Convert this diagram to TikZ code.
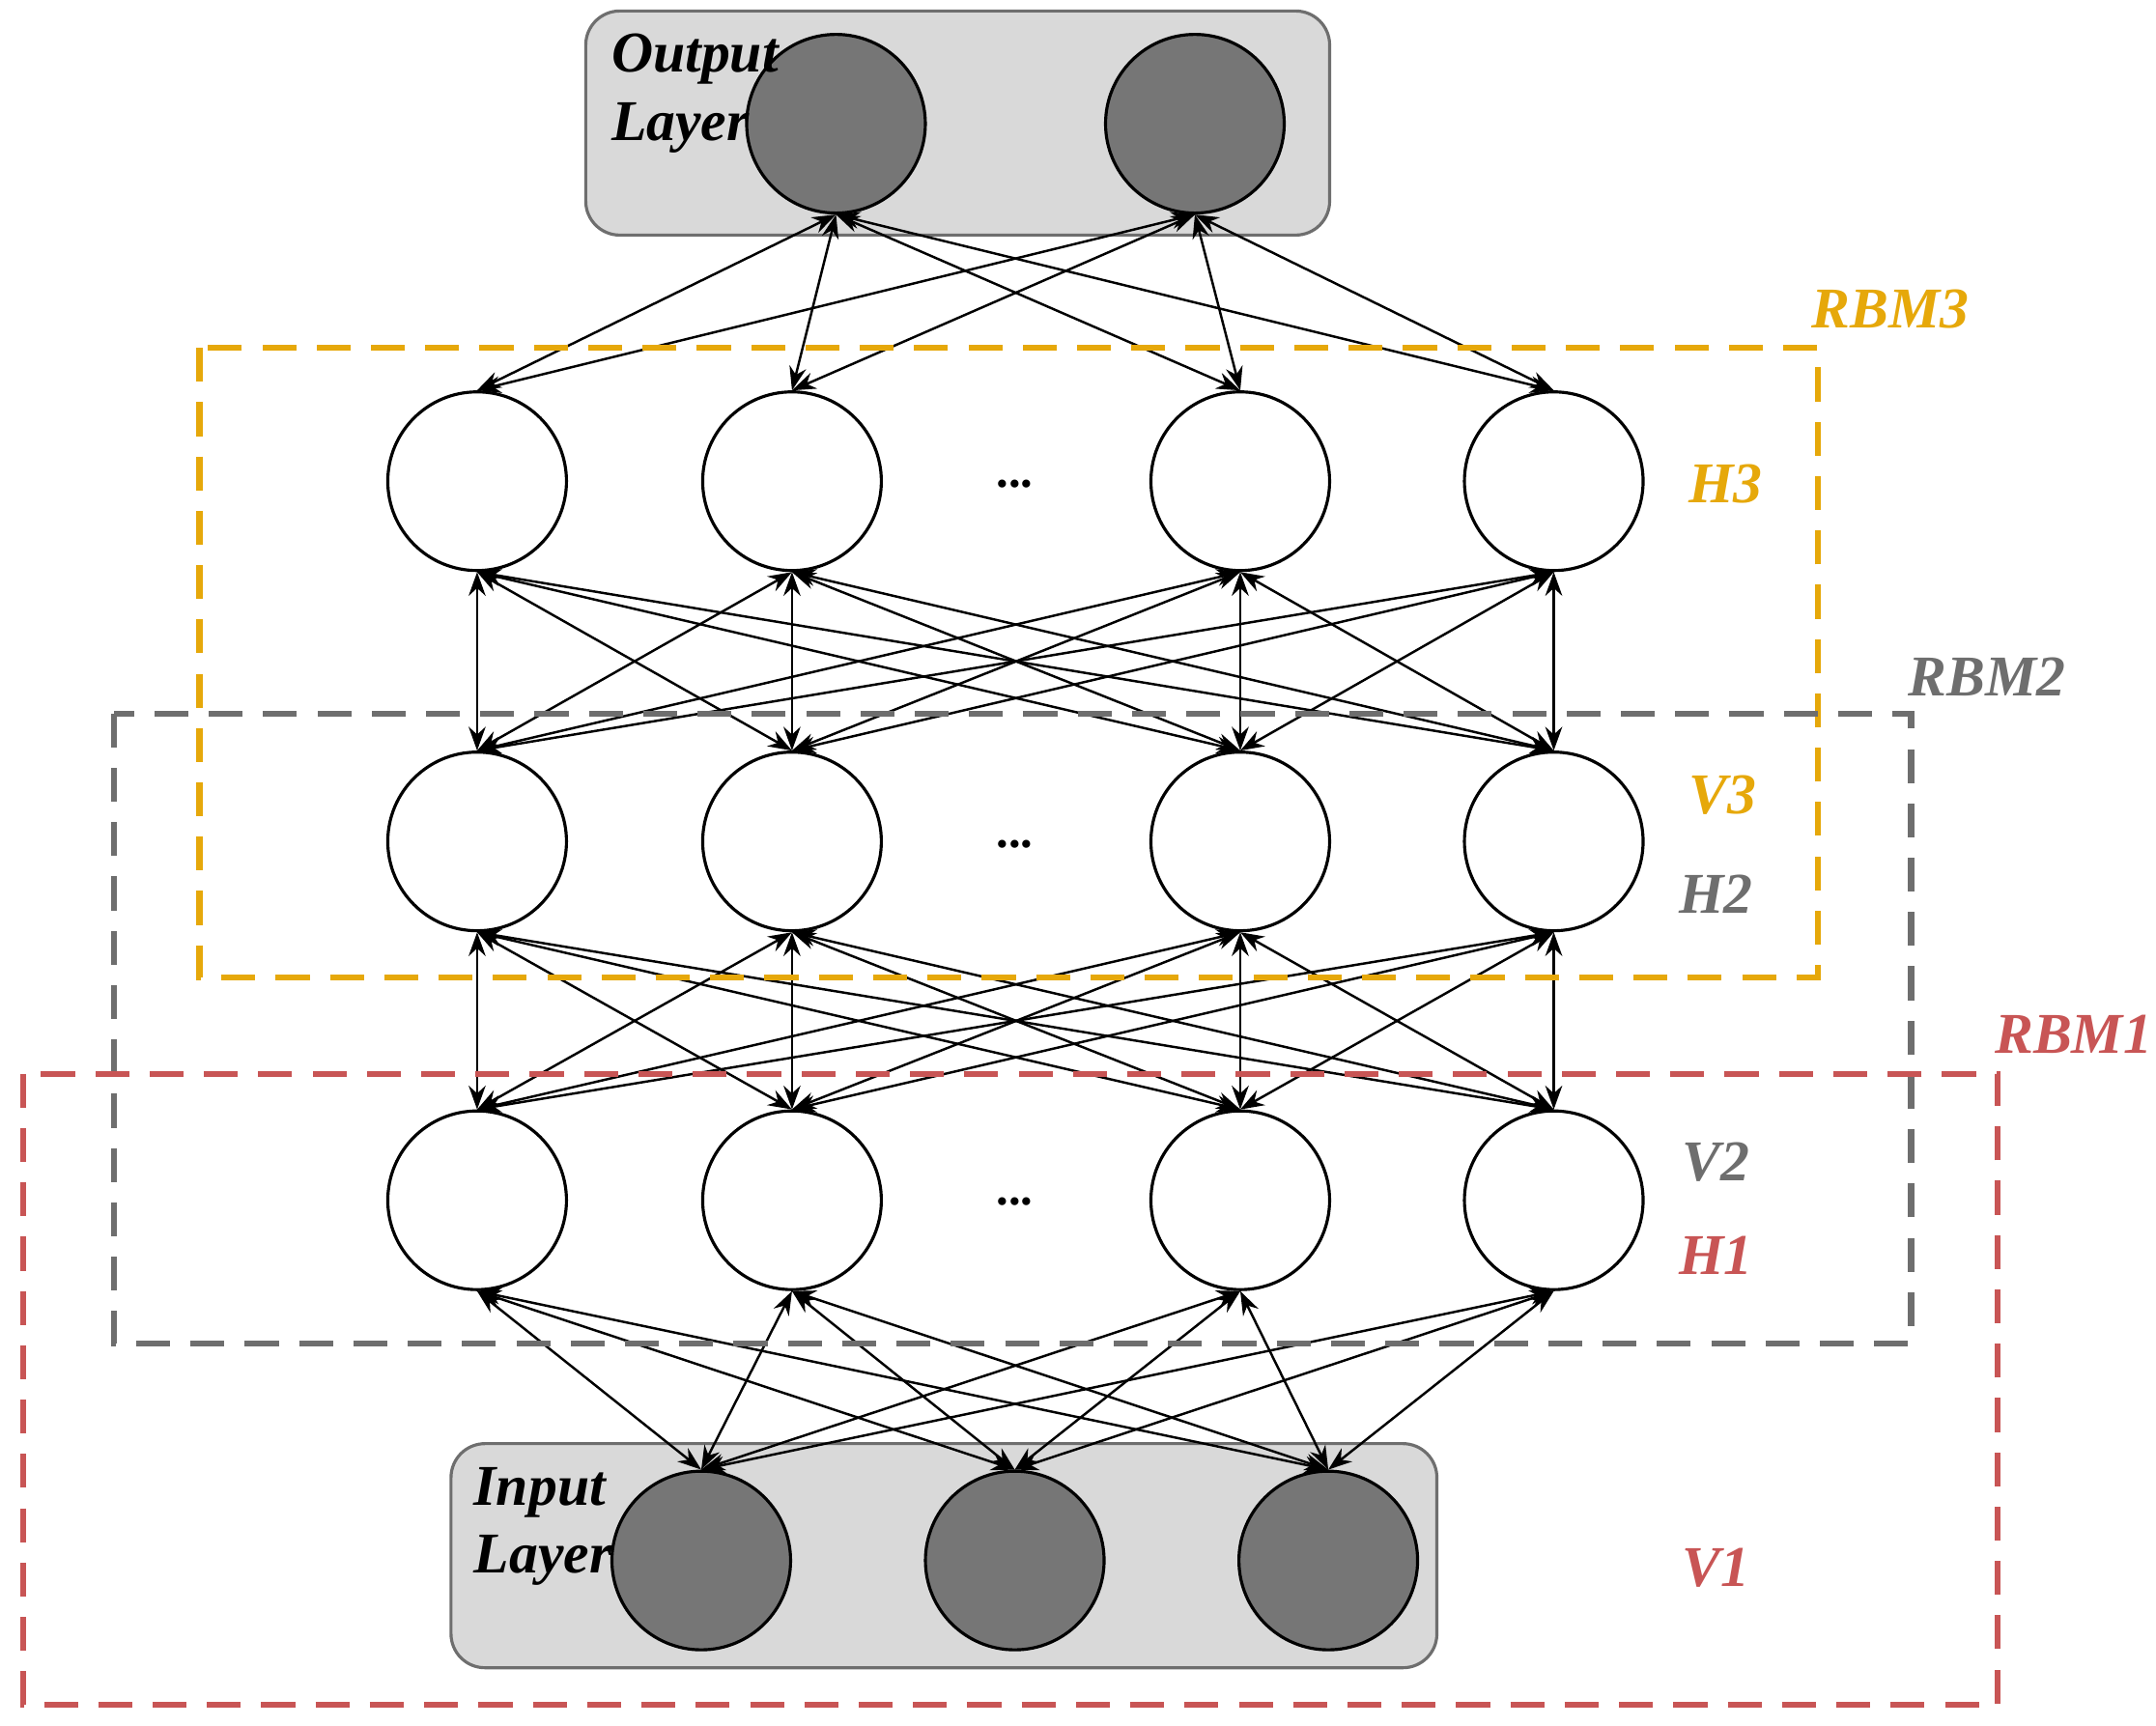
\documentclass[tikz,border=0pt]{standalone}
\usepackage{fontspec}
\setmainfont{Liberation Serif}
\usetikzlibrary{arrows.meta}
\definecolor{orng}{RGB}{230,168,10}
\definecolor{gry}{RGB}{110,110,110}
\definecolor{rd}{RGB}{200,85,85}
\definecolor{dark}{RGB}{118,118,118}
\definecolor{boxf}{RGB}{217,217,217}
\begin{document}
\begin{tikzpicture}[x=0.014235cm,y=-0.014235cm,
  neuron/.style={circle,draw=black,line width=0.9pt,minimum size=1.85cm,inner sep=0pt,fill=white},
  dneuron/.style={neuron,fill=dark},
  lbl/.style={font=\fontsize{17}{20}\selectfont\bfseries\itshape},
  conn/.style={{Stealth[length=7pt,width=5pt]}-{Stealth[length=7pt,width=5pt]},line width=0.7pt},
  layerbox/.style={draw=gry,fill=boxf,rounded corners=10pt,line width=0.9pt},
  rbm/.style={dashed,line width=1.8pt,dash pattern=on 10pt off 6pt}]
\useasboundingbox (0,0) rectangle (1568,1255);
% boxes
\draw[layerbox] (426,8) rectangle (967,171);
\draw[layerbox] (328,1050) rectangle (1045,1213);
% nodes
\foreach \n/\x in {1/608,2/869} \node[dneuron] (o\n) at (\x,90) {};
\foreach \n/\x in {1/510,2/738,3/966} \node[dneuron] (i\n) at (\x,1135) {};
\foreach \n/\x in {1/347,2/576,3/902,4/1130}{
  \node[neuron] (a\n) at (\x,350) {};
  \node[neuron] (b\n) at (\x,612) {};
  \node[neuron] (c\n) at (\x,873) {};
}
\foreach \y in {360,622,882} \node[font=\bfseries\Large] (d\y) at (738,\y-8) {...};
% connections
\foreach \i in {1,2} \foreach \j in {1,2,3,4} \draw[conn] (o\i.south) -- (a\j.north);
\foreach \i in {1,2,3,4} \foreach \j in {1,2,3,4} {
  \draw[conn] (a\i.south) -- (b\j.north);
  \draw[conn] (b\i.south) -- (c\j.north);
}
\foreach \i in {1,2,3,4} \foreach \j in {1,2,3} \draw[conn] (c\i.south) -- (i\j.north);
% layer texts
\node[lbl,align=left,anchor=west] (ol) at (436,68) {Output\\Layer};
\node[lbl,align=left,anchor=west] (il) at (336,1110) {Input\\Layer};
% RBM boxes
\draw[rbm,draw=orng] (145,253) rectangle (1322,711);
\draw[rbm,draw=gry] (83,519) rectangle (1390,977);
\draw[rbm,draw=rd] (17,781) rectangle (1453,1240);
\node[lbl,text=orng] (r3) at (1375,225) {RBM3};
\node[lbl,text=gry] (r2) at (1445,492) {RBM2};
\node[lbl,text=rd] (r1) at (1508,752) {RBM1};
\node[lbl,text=orng] (h3) at (1255,352) {H3};
\node[lbl,text=orng] (v3) at (1253,578) {V3};
\node[lbl,text=gry] (h2) at (1248,650) {H2};
\node[lbl,text=gry] (v2) at (1248,845) {V2};
\node[lbl,text=rd] (h1) at (1248,913) {H1};
\node[lbl,text=rd] (v1) at (1248,1140) {V1};
\end{tikzpicture}
\end{document}
